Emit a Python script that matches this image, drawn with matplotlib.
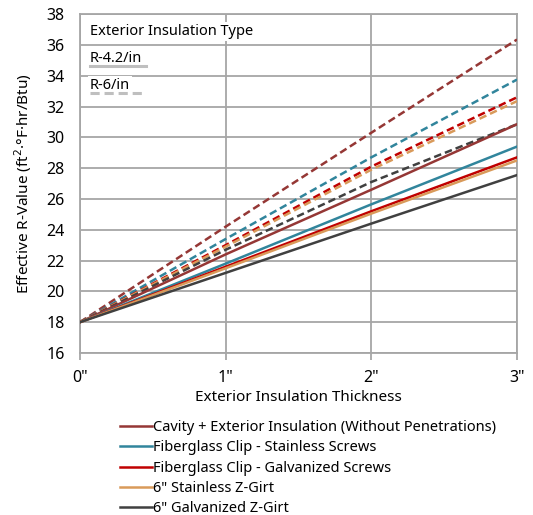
import matplotlib.pyplot as plt
from matplotlib.lines import Line2D

plt.rcParams['font.family'] = ['Noto Sans', 'DejaVu Sans']

# exterior insulation thickness (in)
x_tjocklek = [0, 1, 2, 3]
x_etiketter = ['0"', '1"', '2"', '3"']

serier = [
    "Cavity + Exterior Insulation (Without Penetrations)",
    "Fiberglass Clip - Stainless Screws",
    "Fiberglass Clip - Galvanized Screws",
    '6" Stainless Z-Girt',
    '6" Galvanized Z-Girt',
]
farger = ["#953735", "#31859C", "#C00000", "#D99A5A", "#404040"]

# R-4.2/in (heldragna linjer)
r42 = [
    [18, 22.4, 26.6, 30.85],
    [18, 21.8, 25.65, 29.4],
    [18, 21.6, 25.2, 28.7],
    [18, 21.5, 25.05, 28.5],
    [18, 21.2, 24.4, 27.55],
]
# R-6/in (streckade linjer)
r6 = [
    [18, 24.2, 30.3, 36.35],
    [18, 23.4, 28.7, 33.75],
    [18, 23.0, 28.1, 32.6],
    [18, 22.9, 27.9, 32.35],
    [18, 22.7, 27.1, 30.85],
]

fig = plt.figure(figsize=(5.33, 5.15), dpi=100)
ax = fig.add_axes([0.150, 0.3146, 0.820, 0.658])

for i in range(len(serier)):
    ax.plot(x_tjocklek, r6[i], color=farger[i], lw=1.8, linestyle=(0, (3, 1.6)), zorder=3)
for i in range(len(serier)):
    ax.plot(x_tjocklek, r42[i], color=farger[i], lw=1.8, zorder=4)

ax.set_xlim(0, 3)
ax.set_ylim(16, 38)
ax.set_yticks(range(16, 39, 2))
ax.set_xticks(x_tjocklek)
ax.set_xticklabels(x_etiketter)
ax.grid(True, color="#A6A6A6", lw=1.3)
ax.set_axisbelow(True)
for s in ax.spines.values():
    s.set_color("#A6A6A6")
    s.set_linewidth(1.3)
ax.tick_params(axis='x', colors="#A6A6A6", length=5, width=1.3, labelcolor="black", labelsize=11.5, pad=7)
ax.tick_params(axis='y', length=0, labelsize=11.5, pad=11)

ax.set_xlabel("Exterior Insulation Thickness", fontsize=11, labelpad=3)
ax.set_ylabel("Effective R-Value (ft$^2$·°F·hr/Btu)", fontsize=11, labelpad=9)

# inre "legend" for isoleringstyp
bb = dict(facecolor="white", edgecolor="none", pad=1.5)
ax.text(0.023, 0.948, "Exterior Insulation Type", transform=ax.transAxes, fontsize=10.5,
        va="center", ha="left", bbox=bb, zorder=5)
ax.text(0.023, 0.869, "R-4.2/in", transform=ax.transAxes, fontsize=10.5,
        va="center", ha="left", bbox=bb, zorder=5)
ax.text(0.023, 0.788, "R-6/in", transform=ax.transAxes, fontsize=10.5,
        va="center", ha="left", bbox=bb, zorder=5)
ax.add_line(Line2D([0.023, 0.151], [0.847, 0.847], transform=ax.transAxes,
                   color="#BFBFBF", lw=2.2, zorder=6))
ax.add_line(Line2D([0.023, 0.151], [0.767, 0.767], transform=ax.transAxes,
                   color="#BFBFBF", lw=2.2, linestyle=(0, (3, 1.6)), zorder=6))

handtag = [Line2D([], [], color=c, lw=1.8) for c in farger]
fig.legend(handtag, serier, loc="upper left", bbox_to_anchor=(0.225, 0.184),
           frameon=False, fontsize=10.5, handlelength=2.2, handletextpad=0.1,
           labelspacing=0.36, borderaxespad=0, borderpad=0)

fig.savefig("out.png", dpi=100)
